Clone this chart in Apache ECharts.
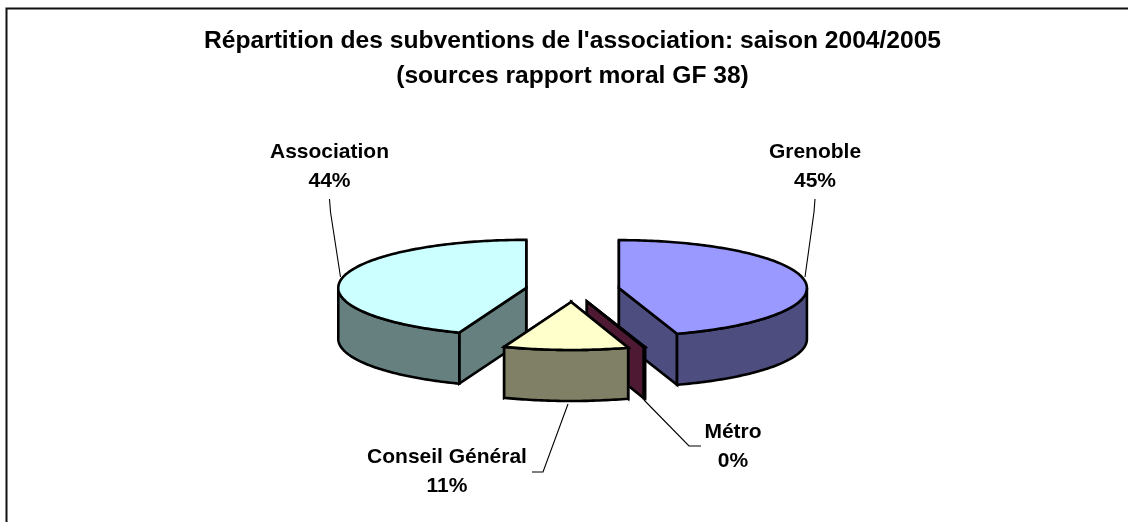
<!DOCTYPE html>
<html>
<head>
<meta charset="utf-8">
<style>html,body{margin:0;padding:0;background:#fff}#chart{width:1128px;height:522px}</style>
<script src="https://cdn.jsdelivr.net/npm/echarts@6/dist/echarts.min.js"></script>
</head>
<body>
<div id="chart"></div>
<script>
const titleText = "Répartition des subventions de l'association: saison 2004/2005\n(sources rapport moral GF 38)";
const categories = ['Grenoble', 'Métro', 'Conseil Général', 'Association'];
const shares = [45.0, 0.1, 10.7, 44.2];
const topColors = ['#9999FF', '#993366', '#FFFFCC', '#CCFFFF'];
const sideColors = ['#4D4D80', '#4D1933', '#808066', '#668080'];

// layout (pixels)
const CX = 572.5, CY = 290, RX = 188, RY = 48, DEPTH = 51, EXPLODE = 0.25;
const W = 1128, H = 522;
const labelAnchors = [[815, 138], [733, 418], [447, 443], [329.5, 138]];
const leaders = [
  [[815, 199], [814, 212], [805, 277]],
  [[644, 400], [689, 446], [701, 446]],
  [[568, 404], [543, 472], [532, 472]],
  [[329.5, 199], [330.5, 212], [340.5, 277]]
];

const total = shares.reduce((a, b) => a + b, 0);
let acc = 0;
const spans = shares.map(v => { const s = acc; acc += v; return [s / total * 360, acc / total * 360]; });
const rad = d => d * Math.PI / 180;

function renderSlice(params, api) {
  const i = api.value(0);
  const [a0, a1] = spans[i];
  const mid = (a0 + a1) / 2;
  const ox = Math.sin(rad(mid)) * EXPLODE, oy = Math.cos(rad(mid)) * EXPLODE;
  const depthU = DEPTH / RY;
  const rim = (a, drop) => api.coord([ox + Math.sin(rad(a)), oy + Math.cos(rad(a)) - (drop ? depthU : 0)]);
  const ctr = drop => api.coord([ox, oy - (drop ? depthU : 0)]);
  const arc = (s, e, drop) => {
    const n = Math.max(2, Math.ceil(Math.abs(e - s)));
    const pts = [];
    for (let k = 0; k <= n; k++) pts.push(rim(s + (e - s) * k / n, drop));
    return pts;
  };
  const base = Math.round((1 - Math.cos(rad(mid))) * 1000);
  const style = fill => ({ fill, stroke: '#000', lineWidth: 2.6, lineJoin: 'miter' });
  const poly = (points, fill, z) => ({ type: 'polygon', shape: { points }, style: style(fill), z2: base + z, silent: true });
  const kids = [];
  kids.push(poly([ctr(0), rim(a0, 0), rim(a0, 1), ctr(1)], sideColors[i], 0));
  kids.push(poly([ctr(0), rim(a1, 0), rim(a1, 1), ctr(1)], sideColors[i], 0));
  const ws = Math.max(a0, 90), we = Math.min(a1, 270);
  if (we > ws) kids.push(poly(arc(ws, we, 0).concat(arc(ws, we, 1).reverse()), sideColors[i], 1));
  kids.push(poly([ctr(0)].concat(arc(a0, a1, 0)), topColors[i], 2));
  kids.push({ type: 'polyline', shape: { points: leaders[i] }, style: { fill: null, stroke: '#000', lineWidth: 1.1 }, z2: 5, silent: true });
  kids.push({
    type: 'text', x: labelAnchors[i][0], y: labelAnchors[i][1], z2: 5000, silent: true,
    style: {
      text: categories[i] + '\n' + Math.round(shares[i]) + '%',
      font: 'bold 21px "Liberation Sans", Arial, sans-serif',
      lineHeight: 28.5, fill: '#000', align: 'center', verticalAlign: 'top'
    }
  });
  return { type: 'group', children: kids };
}

const chart = echarts.init(document.getElementById('chart'), null, { renderer: 'canvas' });
chart.setOption({
  animation: false,
  backgroundColor: '#fff',
  title: {
    text: titleText, left: CX, top: 23.5, padding: 0, textAlign: 'center',
    textStyle: { fontFamily: '"Liberation Sans", Arial, sans-serif', fontWeight: 'bold', fontSize: 24.6, lineHeight: 35, color: '#000' }
  },
  grid: { left: 0, top: 0, width: W, height: H },
  xAxis: { type: 'value', show: false, min: -CX / RX, max: (W - CX) / RX },
  yAxis: { type: 'value', show: false, min: (CY - H) / RY, max: CY / RY },
  graphic: [{
    type: 'polyline', silent: true,
    shape: { points: [[6.5, H + 5], [6.5, 8.5], [W + 5, 8.5]] },
    style: { fill: null, stroke: '#111', lineWidth: 2 }
  }],
  series: [{
    type: 'custom', coordinateSystem: 'cartesian2d', clip: false,
    renderItem: renderSlice,
    data: categories.map((c, i) => ({ name: c, value: [i, shares[i]] })),
    encode: { x: 0, y: 1 }
  }]
});
</script>
</body>
</html>
